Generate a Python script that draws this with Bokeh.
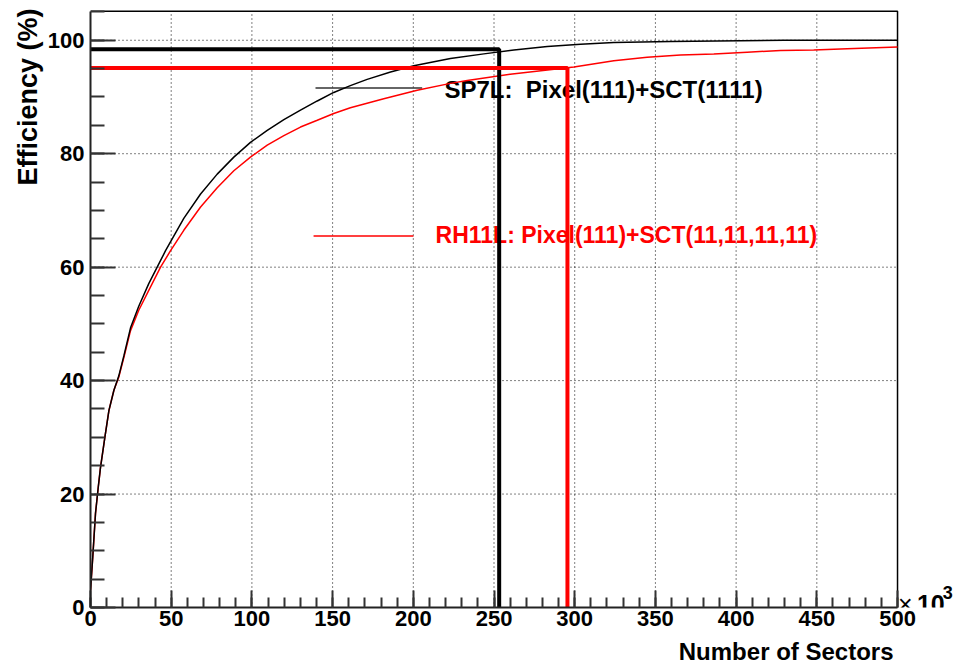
from bokeh.plotting import figure
from bokeh.models import Range1d, SingleIntervalTicker, Title
from bokeh.core.properties import value
from bokeh.embed import file_html
from bokeh.resources import INLINE

# ---------------- data (x in units of 10^3 sectors, y in %) ----------------
sp7l_sectors = [0, 1.4, 3.1, 4.8, 6.2, 8.9, 11.4, 14.5, 17.5, 20.7, 24.8, 29.9,
                36.1, 41.3, 46.5, 57.8, 68.2, 78.5, 88.8, 99.1, 109.5, 119.8,
                130.1, 140.5, 150.7, 161.0, 171.4, 185.9, 200.3, 223.0, 243.7,
                262.3, 283.0, 303.6, 324.2, 359.4, 429.6, 500.0]
sp7l_eff = [3.0, 8.9, 16.6, 21.2, 24.7, 30.0, 34.7, 38.3, 40.8, 44.4, 49.3, 53.1,
            57.1, 60.0, 62.9, 68.6, 72.9, 76.4, 79.4, 82.0, 84.1, 86.0,
            87.7, 89.3, 90.8, 92.0, 93.1, 94.4, 95.5, 96.8, 97.6,
            98.3, 98.9, 99.3, 99.6, 99.8, 100.0, 100.0]

rh11l_sectors = [0, 1.4, 3.1, 4.8, 6.2, 8.9, 11.4, 14.5, 17.5, 20.7, 24.8, 29.9,
                 36.1, 43.4, 49.6, 57.8, 68.2, 78.5, 88.8, 99.1, 109.5, 119.8,
                 130.1, 140.5, 150.7, 161.0, 181.7, 202.4, 223.0, 233.4, 260.0,
                 299.5, 324.2, 344.9, 365.5, 386.2, 406.8, 427.5, 448.1, 468.8,
                 500.0]
rh11l_eff = [3.0, 8.9, 16.6, 21.2, 24.7, 30.0, 34.7, 38.3, 40.6, 44.1, 48.8, 52.4,
             55.9, 60.0, 62.9, 66.5, 70.6, 74.0, 77.0, 79.4, 81.5, 83.2,
             84.7, 85.9, 87.1, 88.1, 89.7, 91.2, 92.4, 92.9, 94.0,
             95.3, 96.4, 97.0, 97.4, 97.6, 97.9, 98.2, 98.3, 98.5,
             98.8]

# working points marked by thick lines: (sectors, efficiency)
sp7l_point = [253.2, 98.4]
rh11l_point = [295.5, 95.1]

x_ticks = [0, 50, 100, 150, 200, 250, 300, 350, 400, 450, 500]
y_ticks = [0, 20, 40, 60, 80, 100]
X_MAX = 500
Y_MAX = 105.1

series_labels = ["SP7L:\u00a0\u00a0Pixel(111)+SCT(1111)", "RH11L: Pixel(111)+SCT(11,11,11,11)"]
x_title = "Number of Sectors"
y_title = "Efficiency (%)"

FONT = "Liberation Sans"

# frame extended to the right edge so the "x10^3" can sit beside the axis end
p = figure(width=954, height=672, output_backend="svg", toolbar_location=None,
           x_range=Range1d(0, 535.3), y_range=Range1d(0, 105.6),
           min_border_left=90, min_border_right=0, min_border_top=8,
           min_border_bottom=65)
p.background_fill_color = "white"
p.border_fill_color = "white"
p.outline_line_color = None
p.xgrid.visible = False
p.ygrid.visible = False

p.xaxis.ticker = SingleIntervalTicker(interval=50, num_minor_ticks=5)
p.yaxis.ticker = SingleIntervalTicker(interval=20, num_minor_ticks=4)
p.xaxis.bounds = (0, X_MAX)
p.yaxis.bounds = (0, Y_MAX)

for ax in (p.xaxis, p.yaxis):
    ax.axis_line_color = "#222"
    ax.axis_line_width = 2
    ax.major_tick_line_color = "#333"
    ax.minor_tick_line_color = "#333"
    ax.major_tick_line_width = 2
    ax.minor_tick_line_width = 2
    ax.major_tick_out = 0
    ax.minor_tick_out = 0
    ax.major_label_text_font = FONT
    ax.major_label_text_font_style = "bold"
    ax.major_label_text_font_size = "22px"
    ax.major_label_text_color = "black"

p.xaxis.major_tick_in = 17
p.xaxis.minor_tick_in = 10
p.yaxis.major_tick_in = 25
p.yaxis.minor_tick_in = 14
p.xaxis.major_label_standoff = 3
p.yaxis.major_label_standoff = 6

# dotted grid, limited to the data frame
gx = x_ticks[1:-1]
p.segment(x0=gx, x1=gx, y0=[0] * len(gx), y1=[Y_MAX] * len(gx),
          line_color="black", line_width=1, line_dash="1 3")
gy = y_ticks[1:]
p.segment(x0=[0] * len(gy), x1=[X_MAX] * len(gy), y0=gy, y1=gy,
          line_color="black", line_width=1, line_dash="1 3")

# frame top / right edges
p.line([0, X_MAX, X_MAX], [Y_MAX, Y_MAX, 0], line_color="black", line_width=1.5)

# legend texts (drawn first so the marker lines overlap them as in the original)
p.text(x=[219.3], y=[91.4], text=[series_labels[0]], text_font=value(FONT),
       text_font_style="bold", text_font_size="24px", text_color="black",
       text_baseline="middle", text_align="left")
p.text(x=[213.8], y=[65.6], text=[series_labels[1]], text_font=value(FONT),
       text_font_style="bold", text_font_size="23px", text_color="red",
       text_baseline="middle", text_align="left")

# legend sample lines
p.line([139.4, 205.5], [91.6, 91.6], line_color="#333", line_width=1.5)
p.line([138.2, 200.1], [65.5, 65.5], line_color="red", line_width=1.5)

# curves
p.line(rh11l_sectors, rh11l_eff, line_color="red", line_width=1.5)
p.line(sp7l_sectors, sp7l_eff, line_color="black", line_width=1.5)

# working point markers
p.line([0, sp7l_point[0], sp7l_point[0]], [sp7l_point[1], sp7l_point[1], 0],
       line_color="black", line_width=4)
p.line([0, rh11l_point[0], rh11l_point[0]], [rh11l_point[1], rh11l_point[1], 0],
       line_color="red", line_width=4)

# axis exponent "x10^3" beside the end of the x axis
p.text(x=[X_MAX + 0.3], y=[0.7], text=["\u00d7"], text_font=value(FONT),
       text_font_size="25px", text_color="black", text_baseline="alphabetic")
p.text(x=[X_MAX + 12.0], y=[0.7], text=["10"], text_font=value(FONT),
       text_font_style="bold", text_font_size="25px", text_color="black",
       text_baseline="alphabetic")
p.text(x=[X_MAX + 28.0], y=[2.6], text=["3"], text_font=value(FONT),
       text_font_style="bold", text_font_size="18px", text_color="black",
       text_baseline="alphabetic")

# axis titles (right / top aligned, ROOT style)
p.add_layout(Title(text=x_title, align="right", offset=61, text_font=FONT,
                   text_font_style="bold", text_font_size="24px",
                   text_color="black", standoff=15), "below")
p.add_layout(Title(text=y_title, align="right", text_font=FONT,
                   text_font_style="bold", text_font_size="27px",
                   text_color="black", standoff=4), "left")

open("out.html", "w").write(file_html(p, INLINE))
